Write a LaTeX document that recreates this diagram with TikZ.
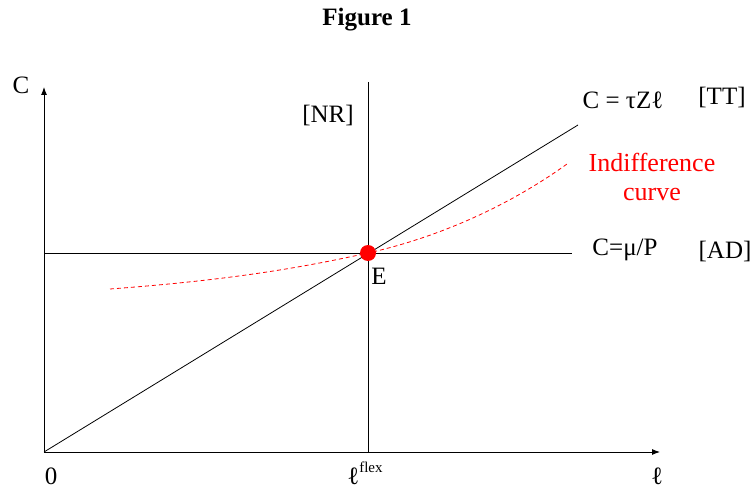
\documentclass[tikz,border=0pt]{standalone}
\usepackage{fontspec}
\setmainfont{Liberation Serif}
\usetikzlibrary{arrows.meta}
\begin{document}
\begin{tikzpicture}[x=1pt,y=-1pt,
  axis/.style={line width=0.9pt,-{Latex[length=8pt,width=6pt]}},
  thin line/.style={line width=0.8pt,black},
  lbl/.style={inner sep=0pt,font=\fontsize{25}{28}\selectfont},
  baselbl/.style={lbl,anchor=base},
  redlbl/.style={inner sep=0pt,text=red,font=\fontsize{26}{29}\selectfont},
  icurve/.style={red,line width=0.8pt,dash pattern=on 4pt off 3pt},
  eqdot/.style={circle,fill=red,inner sep=0pt,minimum size=16pt}]
\useasboundingbox (0,0) rectangle (755,489);
% coordinates
\coordinate (O) at (44,452);
\coordinate (ytop) at (44,87);
\coordinate (xend) at (660,452);
\coordinate (nrtop) at (368,82);
\coordinate (nrbot) at (368,452);
\coordinate (adl) at (44,253);
\coordinate (adr) at (572,253);
\coordinate (tt) at (578,125);
\coordinate (icl) at (110,289);
\coordinate (icr) at (567,164);
% lines
\draw[thin line] (adl) -- (adr);
\draw[thin line] (nrtop) -- (nrbot);
\draw[thin line] (O) -- (tt);
\node[eqdot] (E) at (368,253) {};
\draw[icurve] (icl) .. controls (230,280) and (300,268) .. (E.center) .. controls (440,237) and (510,205) .. (icr);
\draw[axis] (O) -- (ytop);
\draw[axis] (O) -- (xend);
% labels
\node[inner sep=0pt,font=\bfseries\fontsize{25}{28}\selectfont] (title) at (367,20) {Figure 1};
\node[lbl] (Clab) at (21,85) {C};
\node[lbl] (NR) at (328,116) {[NR]};
\node[lbl] (TTeq) at (623,100) {C = τZℓ};
\node[lbl] (TT) at (722,98) {[TT]};
\node[redlbl,align=center] (IC) at (652,177) {Indifference\\curve};
\node[lbl] (ADeq) at (625,250) {C=μ/P};
\node[lbl] (AD) at (725,251) {[AD]};
\node[lbl] (Elab) at (379,276) {E};
\node[baselbl] (zero) at (51,484) {0};
\node[baselbl] (lflex) at (365,484) {ℓ\raisebox{0.45em}{\fontsize{15}{17}\selectfont flex}};
\node[baselbl] (ell) at (657,484) {ℓ};
\end{tikzpicture}
\end{document}
